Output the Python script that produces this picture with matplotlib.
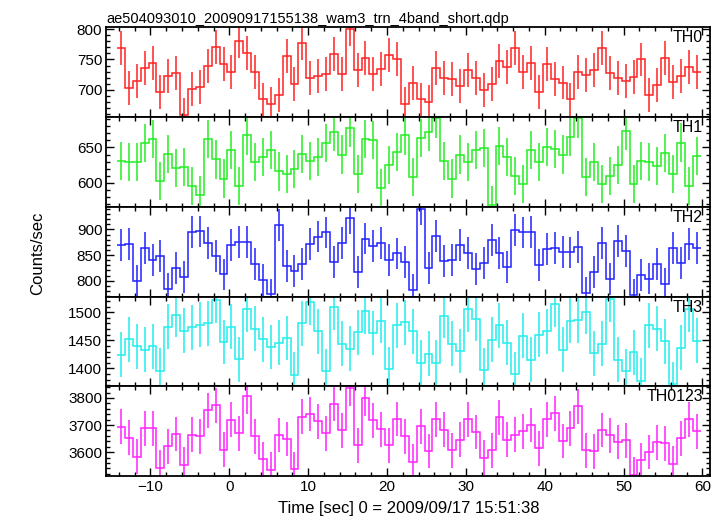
import numpy as np
import matplotlib
matplotlib.use('Agg')
import matplotlib.pyplot as plt
from matplotlib.ticker import MultipleLocator

plt.rcParams['font.family'] = ['Liberation Sans', 'DejaVu Sans']

# Light curve (1 s bins), counts/sec per energy band
TIME_START = -13.73      # centre of first bin, sec
BIN_WIDTH = 1.0

TH0 = [769, 703, 714, 736, 744, 697, 723, 728, 659, 701,
       704, 739, 770, 743, 730, 781, 760, 729, 684, 677,
       692, 756, 710, 777, 719, 722, 726, 759, 726, 800,
       733, 752, 726, 734, 758, 751, 677, 711, 684, 680,
       736, 719, 718, 707, 732, 719, 700, 710, 747, 738,
       769, 729, 744, 697, 743, 718, 712, 684, 730, 724,
       732, 769, 728, 719, 715, 721, 750, 691, 708, 752,
       713, 722, 738, 730]
TH1 = [631, 629, 630, 656, 662, 602, 641, 621, 622, 595,
       583, 662, 633, 606, 646, 596, 667, 629, 637, 647,
       616, 612, 619, 641, 631, 637, 656, 672, 640, 678,
       612, 662, 660, 592, 625, 643, 667, 608, 663, 672,
       691, 631, 606, 640, 629, 647, 649, 569, 652, 637,
       610, 598, 646, 629, 651, 648, 640, 665, 691, 608,
       629, 598, 610, 625, 674, 598, 631, 629, 624, 642,
       612, 657, 596, 638]
TH2 = [869, 871, 800, 863, 841, 848, 784, 824, 807, 895,
       896, 874, 848, 812, 869, 876, 876, 832, 802, 773,
       909, 829, 819, 833, 871, 886, 894, 837, 873, 922,
       817, 882, 867, 873, 841, 853, 836, 781, 940, 824,
       887, 839, 841, 869, 854, 822, 835, 880, 854, 827,
       899, 894, 895, 831, 861, 864, 856, 855, 865, 776,
       817, 873, 803, 878, 858, 772, 811, 804, 832, 793,
       864, 835, 871, 863]
TH3 = [1424, 1452, 1439, 1433, 1439, 1396, 1474, 1495, 1467, 1473,
       1478, 1480, 1521, 1447, 1474, 1416, 1505, 1471, 1452, 1438,
       1446, 1454, 1389, 1480, 1518, 1466, 1395, 1509, 1444, 1435,
       1464, 1502, 1463, 1485, 1398, 1477, 1482, 1466, 1410, 1426,
       1410, 1494, 1444, 1431, 1505, 1488, 1397, 1451, 1477, 1446,
       1390, 1458, 1415, 1460, 1466, 1514, 1433, 1485, 1486, 1501,
       1427, 1444, 1523, 1415, 1395, 1429, 1378, 1477, 1471, 1448,
       1372, 1437, 1505, 1449]
TH0123 = [3694, 3654, 3583, 3688, 3688, 3543, 3622, 3667, 3554, 3664,
          3659, 3754, 3773, 3609, 3720, 3670, 3806, 3658, 3575, 3535,
          3663, 3649, 3537, 3731, 3741, 3714, 3670, 3778, 3680, 3835,
          3625, 3798, 3717, 3684, 3625, 3722, 3659, 3565, 3695, 3604,
          3721, 3683, 3607, 3646, 3721, 3674, 3579, 3607, 3728, 3646,
          3665, 3677, 3700, 3614, 3721, 3743, 3641, 3688, 3769, 3607,
          3603, 3682, 3662, 3637, 3643, 3517, 3570, 3601, 3636, 3633,
          3558, 3651, 3721, 3677]

# typical 1-sigma error per band
ERRORS = [28, 27, 31, 40, 64]
LABELS = ['TH0', 'TH1', 'TH2', 'TH3', 'TH0123']
COLORS = ['#ff2222', '#22ee22', '#2222ff', '#22eeee', '#ff22ff']
YLIMS = [(655, 803), (566, 693), (769, 944), (1368, 1528), (3512, 3843)]
YMAJOR = [50, 50, 50, 50, 100]
YMINOR = [10, 10, 10, 10, 20]

series = [TH0, TH1, TH2, TH3, TH0123]
n = len(TH0)
t = TIME_START + np.arange(n) * BIN_WIDTH
edges = np.append(t - BIN_WIDTH / 2, t[-1] + BIN_WIDTH / 2)

fig, axes = plt.subplots(5, 1, sharex=True, figsize=(7.24, 5.16), dpi=100)
fig.subplots_adjust(left=0.147, right=0.981, top=0.947, bottom=0.0775, hspace=0)

for ax, vals, err, lab, col, yl, ymaj, ymin in zip(
        axes, series, ERRORS, LABELS, COLORS, YLIMS, YMAJOR, YMINOR):
    vals = np.array(vals)
    ax.stairs(vals, edges, color=col, lw=1.1, baseline=None)
    ax.errorbar(t, vals, yerr=err, fmt='none', ecolor=col, elinewidth=1.1)
    ax.set_ylim(*yl)
    ax.yaxis.set_major_locator(MultipleLocator(ymaj))
    ax.yaxis.set_minor_locator(MultipleLocator(ymin))
    ax.text(0.988, 0.965, lab, transform=ax.transAxes, ha='right', va='top', fontsize=11.5)
    ax.tick_params(which='both', direction='in', top=True, right=True, labelsize=11, pad=3)
    ax.tick_params(which='major', length=6, width=1)
    ax.tick_params(which='minor', length=3, width=1)
    for s in ax.spines.values():
        s.set_linewidth(1.3)

axes[-1].set_xlim(-15.58, 61.0)
axes[-1].xaxis.set_major_locator(MultipleLocator(10))
axes[-1].xaxis.set_minor_locator(MultipleLocator(2))
axes[-1].set_xlabel('Time [sec] 0 = 2009/09/17 15:51:38', fontsize=12, labelpad=5)
fig.text(0.052, 0.51, 'Counts/sec', rotation=90, ha='center', va='center', fontsize=12)
axes[0].set_title('ae504093010_20090917155138_wam3_trn_4band_short.qdp',
                  loc='left', fontsize=10.5, pad=3)

fig.savefig('out.png', dpi=100)
